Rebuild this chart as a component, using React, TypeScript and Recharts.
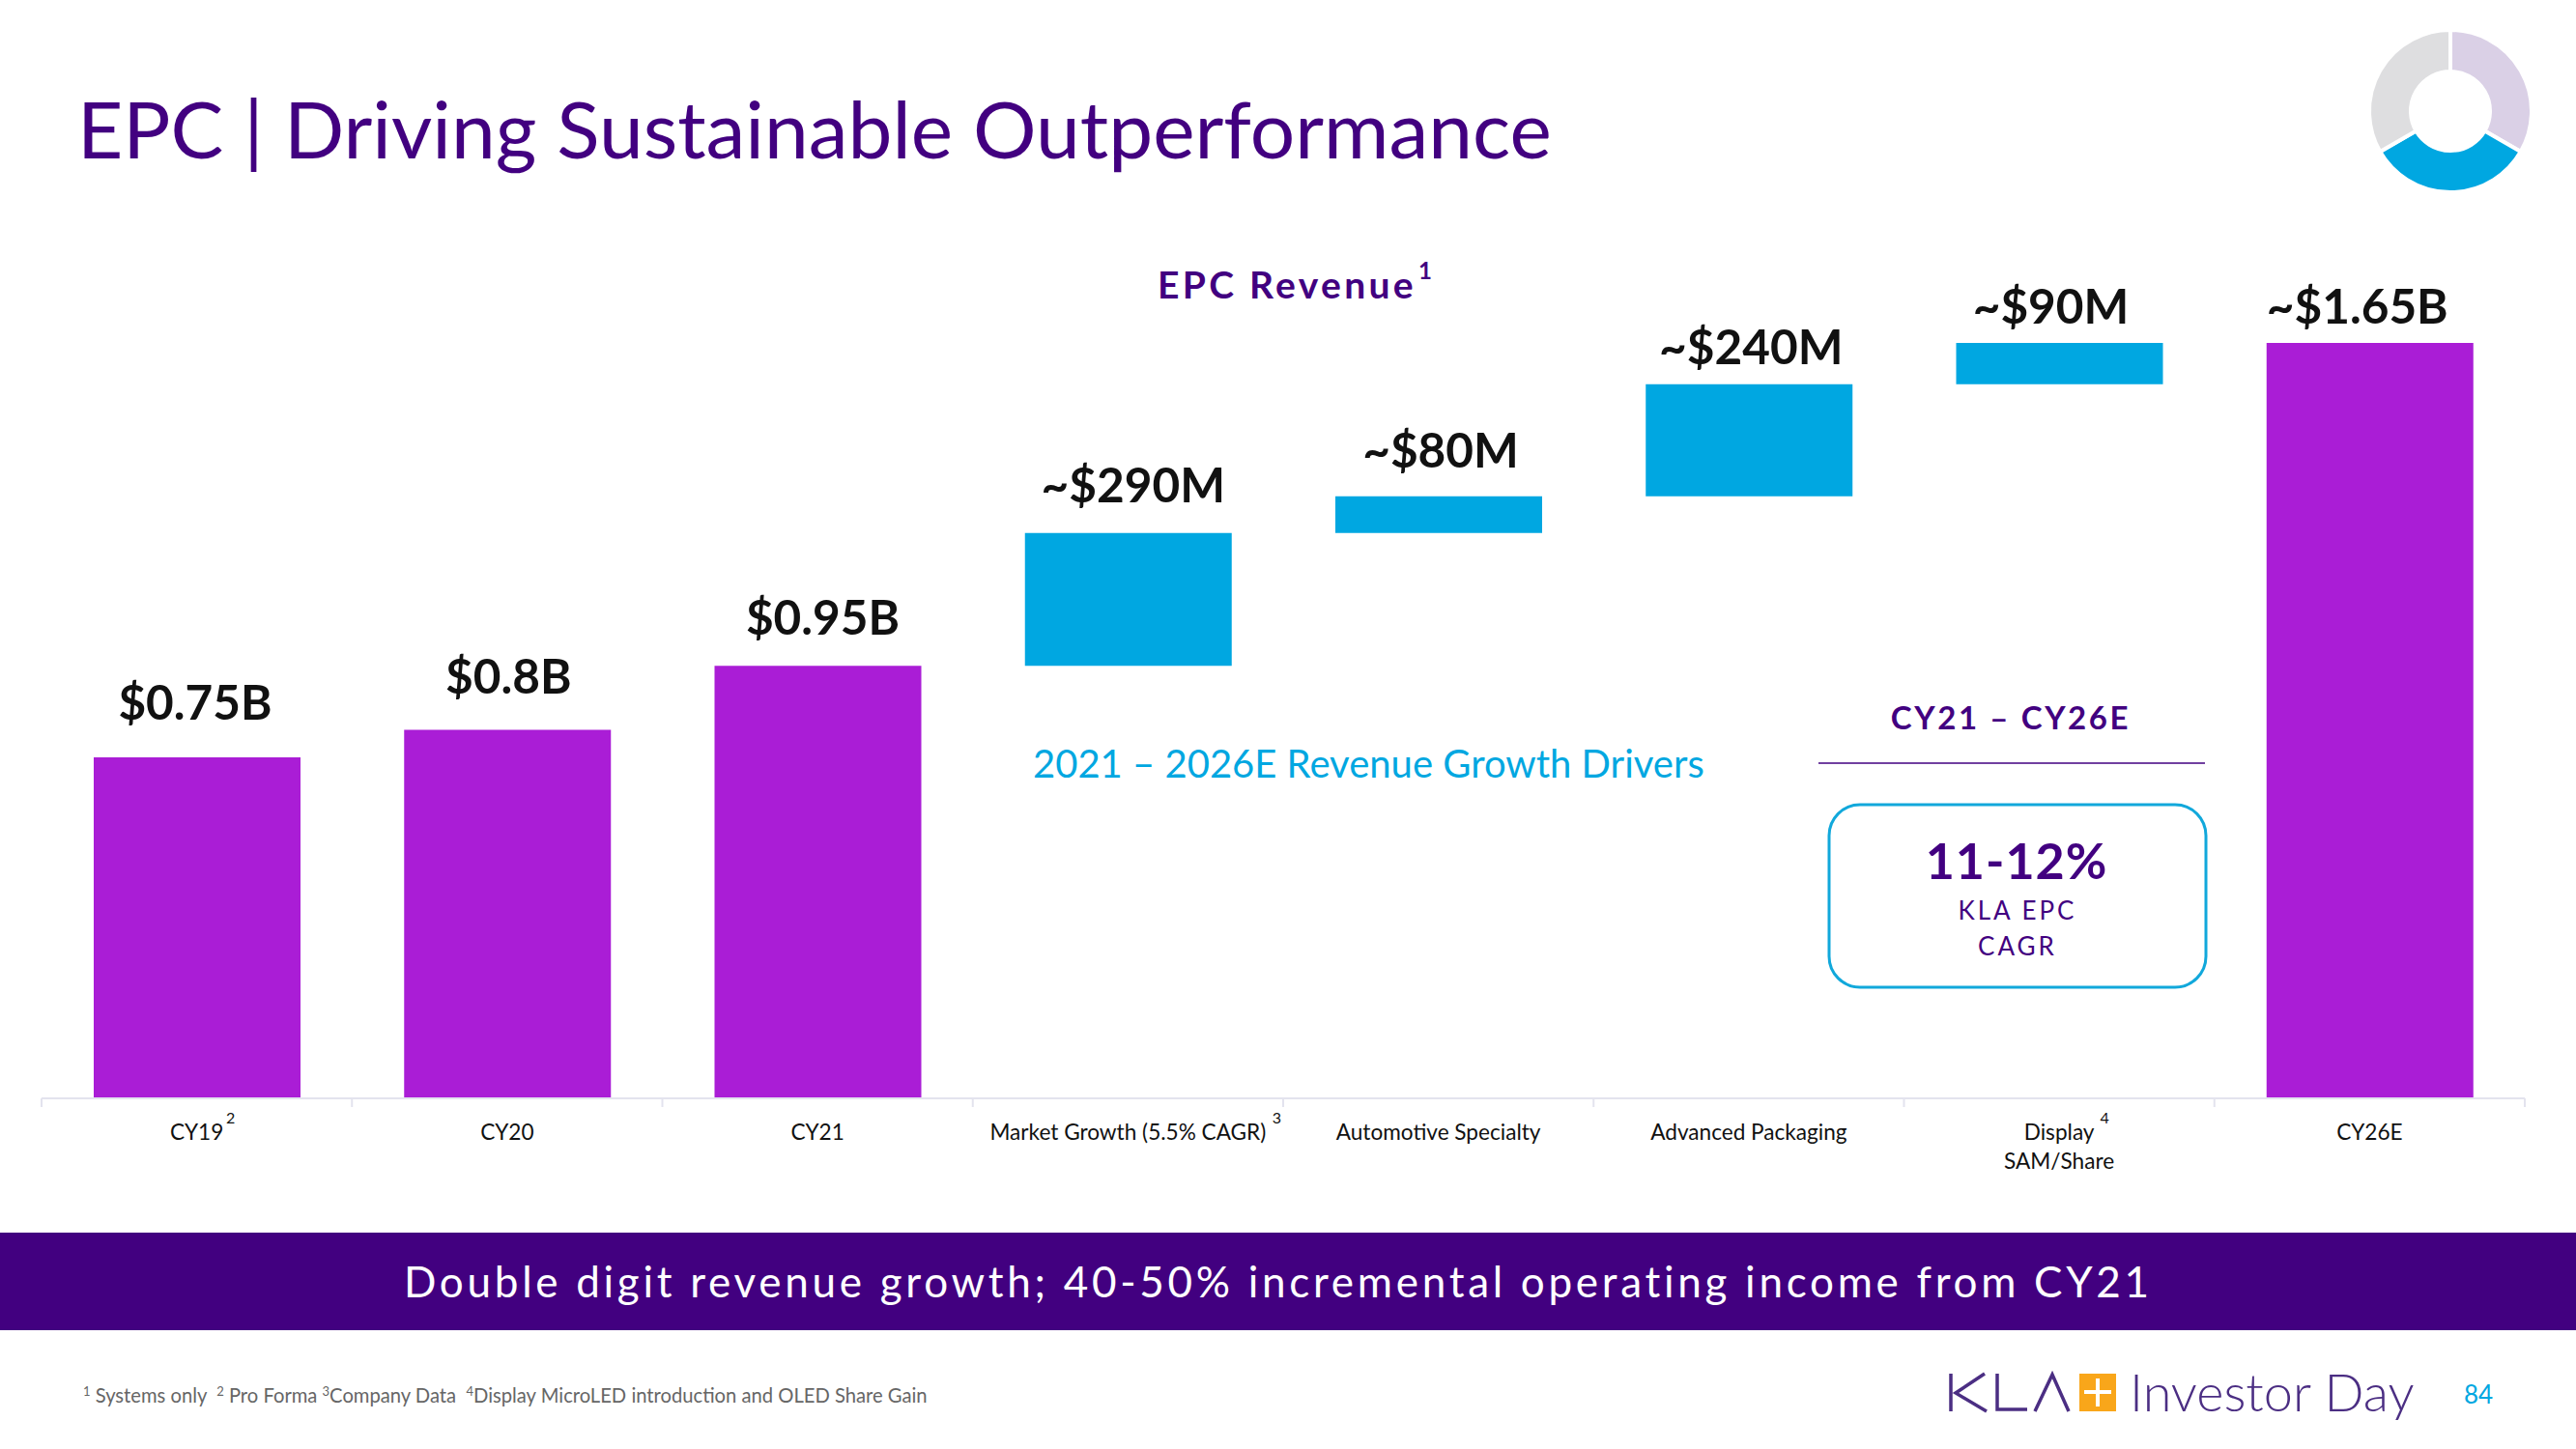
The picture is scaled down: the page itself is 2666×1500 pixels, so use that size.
import { BarChart, Bar, Cell, XAxis, YAxis, LabelList, PieChart, Pie } from "recharts";

const FONT = "Lato, sans-serif";
const PURPLE = "#420080";
const BLUE = "#00A7E1";
const MAGENTA = "#AA1DD6";

const categories = ["CY19", "CY20", "CY21", "Market Growth (5.5% CAGR)", "Automotive Specialty", "Advanced Packaging", "Display", "CY26E"];
const secondLines = ["", "", "", "", "", "", "SAM/Share", ""];
const superscripts = ["2", "", "", "3", "", "", "4", ""];
const offsets = [0, 0, 0, 0.945, 1.235, 1.315, 1.56, 0];
const values = [0.745, 0.805, 0.945, 0.29, 0.08, 0.245, 0.09, 1.65];
const valueLabels = ["$0.75B", "$0.8B", "$0.95B", "~$290M", "~$80M", "~$240M", "~$90M", "~$1.65B"];
const isStep = [false, false, false, true, true, true, true, false];

const donutShares = [1, 1, 1];
const donutColors = ["#DAD0E6", BLUE, "#DEDEE0"];

// small per-label nudges so labels sit where they do on the slide
const labelLift = [39, 37, 32, 32, 30, 21, 20, 20];
const labelShift = [-2, 1, 5, 5, 2, 2, -9, -13];
const supShift = [35, 0, 0, 154, 0, 0, 47, 0];

const rows = categories.map((name, i) => ({ name, offset: offsets[i], value: values[i] }));

function CategoryTick({ x, y, payload, index }: any) {
  const i = payload?.index ?? index;
  const step = 321.25;
  const base = y - 8;
  return (
    <g fontFamily={FONT}>
      <line x1={x - step / 2} x2={x - step / 2} y1={base} y2={base + 9} stroke="#E3E3EE" strokeWidth={2} />
      {i === categories.length - 1 && (
        <line x1={x + step / 2} x2={x + step / 2} y1={base} y2={base + 9} stroke="#E3E3EE" strokeWidth={2} />
      )}
      <text x={x} y={base + 43} textAnchor="middle" fontSize={22.6} fill="#111">
        {payload.value}
      </text>
      {secondLines[i] && (
        <text x={x} y={base + 73} textAnchor="middle" fontSize={22.6} fill="#111">
          {secondLines[i]}
        </text>
      )}
      {superscripts[i] && (
        <text x={x + supShift[i]} y={base + 26} textAnchor="middle" fontSize={16} fill="#111">
          {superscripts[i]}
        </text>
      )}
    </g>
  );
}

function ValueLabel({ x, y, width, index }: any) {
  return (
    <text
      x={x + width / 2 + labelShift[index]}
      y={y - labelLift[index]}
      textAnchor="middle"
      fontFamily={FONT}
      fontWeight={700}
      fontSize={49.5}
      fill="#111"
    >
      {valueLabels[index]}
    </text>
  );
}

function SlideText() {
  return (
    <svg width={2666} height={1500} style={{ position: "absolute", left: 0, top: 0 }} fontFamily={FONT}>
      <text x={80} y={164} fontSize={82} fill={PURPLE}>EPC | Driving Sustainable Outperformance</text>

      <text x={1198} y={309} fontSize={39} fontWeight={700} letterSpacing={3.3} fill={PURPLE}>EPC Revenue</text>
      <text x={1468} y={289} fontSize={24} fontWeight={700} fill={PURPLE}>1</text>

      <text x={1069} y={805} fontSize={40} fill={BLUE}>2021 – 2026E Revenue Growth Drivers</text>

      <text x={2081} y={755} textAnchor="middle" fontSize={33} fontWeight={700} letterSpacing={2.6} fill={PURPLE}>CY21 – CY26E</text>
      <line x1={1882} x2={2282} y1={790} y2={790} stroke={PURPLE} strokeWidth={1.5} />
      <rect x={1893} y={833} width={390} height={189} rx={32} fill="none" stroke="#11A8DB" strokeWidth={3} />
      <text x={2087} y={910} textAnchor="middle" fontSize={52} fontWeight={700} letterSpacing={1} fill={PURPLE}>11-12%</text>
      <text x={2088} y={952} textAnchor="middle" fontSize={26} letterSpacing={3} fill={PURPLE}>KLA EPC</text>
      <text x={2088} y={989} textAnchor="middle" fontSize={26} letterSpacing={3} fill={PURPLE}>CAGR</text>

      <rect x={0} y={1276} width={2666} height={101} fill={PURPLE} />
      <text x={418} y={1343} fontSize={44} letterSpacing={3.72} fill="#fff">Double digit revenue growth; 40-50% incremental operating income from CY21</text>

      <text x={86} y={1452} fontSize={20.2} fill="#666" style={{ whiteSpace: "pre" }}>
        <tspan fontSize={13} dy={-7}>1</tspan>
        <tspan dy={7}> Systems only  </tspan>
        <tspan fontSize={13} dy={-7}>2</tspan>
        <tspan dy={7}> Pro Forma </tspan>
        <tspan fontSize={13} dy={-7}>3</tspan>
        <tspan dy={7}>Company Data  </tspan>
        <tspan fontSize={13} dy={-7}>4</tspan>
        <tspan dy={7}>Display MicroLED introduction and OLED Share Gain</tspan>
      </text>

      {/* logo */}
      <g fill="none" stroke="#4B2E83" strokeWidth={3.5}>
        <path d="M2019 1422 V1461 M2054 1422 L2024 1442 L2056 1461" />
        <path d="M2067 1422 V1459 H2098" />
        <path d="M2106 1461 L2124 1423 L2141 1461" />
      </g>
      <rect x={2152} y={1422} width={38} height={39} fill="#F9A61A" />
      <path d="M2171 1427 V1456 M2157 1441 H2185" stroke="#fff" strokeWidth={4} />
      <text x={2204} y={1461} fontSize={54} fontWeight={300} fill="#4B2E83">Investor Day</text>
      <text x={2550} y={1453} fontSize={26} fill={BLUE}>84</text>
    </svg>
  );
}

export default function App() {
  return (
    <div style={{ position: "absolute", left: 0, top: 0, width: 2666, height: 1500, background: "#fff", overflow: "hidden" }}>
      <SlideText />
      <div style={{ position: "absolute", left: 0, top: 0 }}>
        <BarChart width={2666} height={1500} data={rows} margin={{ top: 355, right: 53, bottom: 263, left: 43 }}>
          <XAxis
            dataKey="name"
            height={100}
            interval={0}
            axisLine={{ stroke: "#E3E3EE", strokeWidth: 2 }}
            tickLine={false}
            tick={<CategoryTick />}
          />
          <YAxis hide domain={[0, 1.65]} />
          <Bar dataKey="offset" stackId="a" fill="none" barSize={214} isAnimationActive={false} />
          <Bar dataKey="value" stackId="a" barSize={214} isAnimationActive={false}>
            {rows.map((r, i) => (
              <Cell key={r.name} fill={isStep[i] ? BLUE : MAGENTA} />
            ))}
            <LabelList dataKey="value" content={<ValueLabel />} />
          </Bar>
        </BarChart>
      </div>
      <div style={{ position: "absolute", left: 2446, top: 25 }}>
        <PieChart width={180} height={180} margin={{ top: 0, right: 0, bottom: 0, left: 0 }}>
          <Pie
            data={donutShares.map((value) => ({ value }))}
            dataKey="value"
            cx={90}
            cy={90}
            innerRadius={41}
            outerRadius={84}
            startAngle={90}
            endAngle={-270}
            stroke="#fff"
            strokeWidth={4}
            isAnimationActive={false}
          >
            {donutColors.map((c) => (
              <Cell key={c} fill={c} />
            ))}
          </Pie>
        </PieChart>
      </div>
    </div>
  );
}
